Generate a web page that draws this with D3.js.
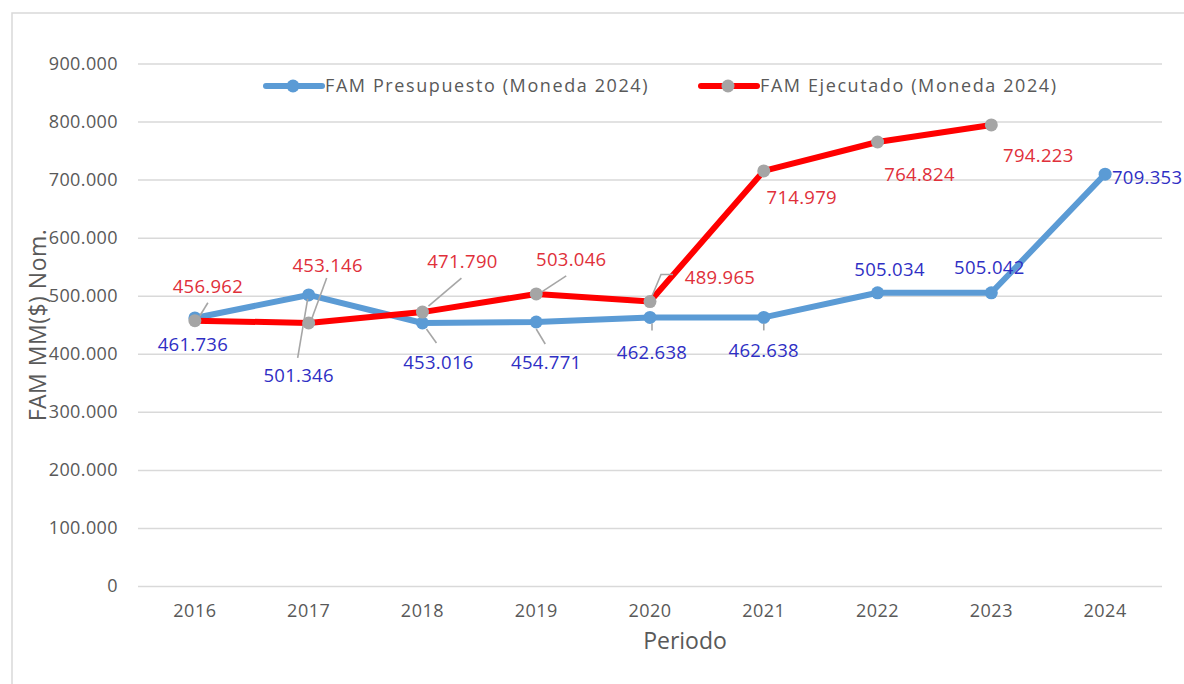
<!DOCTYPE html>
<html>
<head>
<meta charset="utf-8">
<script src="https://cdn.jsdelivr.net/npm/d3@7"></script>
<style>
  html, body { margin: 0; padding: 0; background: #fff; }
  svg { display: block; font-family: "Open Sans", "Noto Sans", sans-serif; }
</style>
</head>
<body>
<svg width="1184" height="684"></svg>
<script>
// data
let years = ["2016", "2017", "2018", "2019", "2020", "2021", "2022", "2023", "2024"];
let presupuesto = [461736, 501346, 453016, 454771, 462638, 462638, 505034, 505042, 709353];
let ejecutado = [456962, 453146, 471790, 503046, 489965, 714979, 764824, 794223];
let yTicks = [0, 100000, 200000, 300000, 400000, 500000, 600000, 700000, 800000, 900000];

// label placement (offset of label centre from its point), and leader lines
let presLabelOff = [[-2, 27], [-10, 81], [16, 40], [10, 41], [2, 35], [0, 33], [12, -23], [-2, -25], [42, 3]];
let ejecLabelOff = [[13, -34], [19, -57], [40, -51], [35, -34], [70, -24], [38, 27], [42, 33], [47, 31]];
let presLeaders = [null, [[-11, 63], [-1, 4]], [[14, 20], [4, 6]], [[9, 22], [0, 7]], [[2, 6], [2, 13]], [[0, 6], [0, 13]], null, null, null];
let ejecLeaders = [[[13, -18], [5, -5]], [[18, -45], [3, -4]], [[39, -34], [6, -6]], [[30, -18], [4, -1]], [[23, -27], [11, -27], [1, -3]], null, null, null];

let es = d3.formatLocale({ decimal: ",", thousands: ".", grouping: [3], currency: ["$", ""] });
let fmt = es.format(",d");

let svg = d3.select("svg");

// chart frame
svg.append("rect")
  .attr("x", 12).attr("y", 13)
  .attr("width", 1200).attr("height", 700)
  .attr("fill", "none").attr("stroke", "#d9d9d9").attr("stroke-width", 1.5);

let xScale = d3.scaleBand().domain(years).range([138, 1162]);
let yScale = d3.scaleLinear().domain([0, 900000]).range([586, 63.5]);
let xMap = (d, i) => xScale(years[i]) + xScale.bandwidth() / 2;
let yMap = d => yScale(d);

// gridlines + y axis labels
let yAxis = d3.axisLeft(yScale).tickValues(yTicks).tickFormat(fmt)
  .tickSize(-(1162 - 138)).tickPadding(20);
let gy = svg.append("g").attr("transform", "translate(138,0)").call(yAxis);
gy.select(".domain").remove();
gy.selectAll(".tick line").attr("stroke", "#d9d9d9").attr("stroke-width", 1.5);
gy.selectAll(".tick text").attr("fill", "#595959").attr("font-size", 18)
  .attr("font-family", "Open Sans").attr("letter-spacing", 0.4);

// x axis labels
let xAxis = d3.axisBottom(xScale).tickSize(0).tickPadding(18);
let gx = svg.append("g").attr("transform", "translate(0,586)").call(xAxis);
gx.select(".domain").remove();
gx.selectAll(".tick text").attr("fill", "#595959").attr("font-size", 18)
  .attr("font-family", "Open Sans").attr("letter-spacing", 0.5);

// axis titles
svg.append("text")
  .attr("x", 685).attr("y", 649)
  .attr("text-anchor", "middle")
  .attr("font-size", 23).attr("fill", "#595959")
  .text("Periodo");

svg.append("text")
  .attr("transform", "translate(46,325) rotate(-90)")
  .attr("text-anchor", "middle")
  .attr("font-size", 23).attr("fill", "#595959").attr("letter-spacing", 0.5)
  .text("FAM MM($) Nom.");

let line = d3.line().x(xMap).y(yMap);

function drawSeries(values, color, markerColor) {
  let g = svg.append("g");
  g.append("path")
    .datum(values)
    .attr("d", line)
    .attr("fill", "none").attr("stroke", color)
    .attr("stroke-width", 6).attr("stroke-linejoin", "round").attr("stroke-linecap", "round");

  g.selectAll("circle")
    .data(values)
    .enter()
    .append("circle")
      .attr("cx", xMap)
      .attr("cy", yMap)
      .attr("r", 6.5)
      .attr("fill", markerColor);
  return g;
}

function drawLabels(values, labelColor, offs, leaders) {
  let g = svg.append("g");
  values.forEach(function(v, i) {
    let px = xMap(v, i), py = yMap(v);
    if (leaders[i]) {
      g.append("polyline")
        .attr("points", leaders[i].map(p => (px + p[0]) + "," + (py + p[1])).join(" "))
        .attr("fill", "none").attr("stroke", "#a6a6a6").attr("stroke-width", 1.6);
    }
    g.append("text")
      .attr("x", px + offs[i][0])
      .attr("y", py + offs[i][1])
      .attr("dy", "0.35em")
      .attr("text-anchor", "middle")
      .attr("font-size", 18.5).attr("letter-spacing", 0.3)
      .attr("fill", labelColor)
      .text(fmt(v));
  });
}

drawSeries(presupuesto, "#5b9bd5", "#5b9bd5");
drawSeries(ejecutado, "#ff0000", "#a5a5a5");
drawLabels(presupuesto, "#2f2fc4", presLabelOff, presLeaders);
drawLabels(ejecutado, "#e0303a", ejecLabelOff, ejecLeaders);

// legend
let legendItems = [
  { name: "FAM Presupuesto (Moneda 2024)", color: "#5b9bd5", marker: "#5b9bd5", x: 266 },
  { name: "FAM Ejecutado (Moneda 2024)", color: "#ff0000", marker: "#a5a5a5", x: 701 }
];
let lg = svg.append("g").selectAll("g")
  .data(legendItems)
  .enter()
  .append("g")
    .attr("transform", d => "translate(" + d.x + ",86)");
lg.append("line")
  .attr("x1", 0).attr("x2", 56)
  .attr("stroke", d => d.color).attr("stroke-width", 6).attr("stroke-linecap", "round");
lg.append("circle")
  .attr("cx", 27).attr("r", 6.5)
  .attr("fill", d => d.marker);
lg.append("text")
  .attr("x", 59).attr("dy", "0.35em")
  .attr("font-size", 18).attr("letter-spacing", 1.6)
  .attr("fill", "#595959")
  .text(d => d.name);
</script>
</body>
</html>
